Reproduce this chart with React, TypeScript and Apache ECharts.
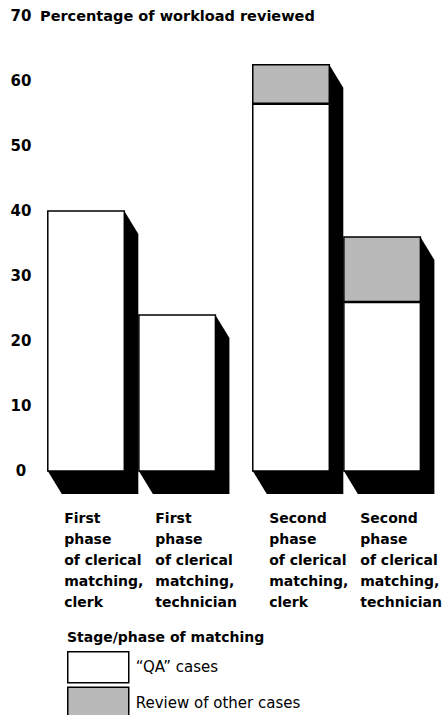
import React, { useEffect, useRef } from "react";
import * as echarts from "echarts";

const categories = [
  "First\nphase\nof clerical\nmatching,\nclerk",
  "First\nphase\nof clerical\nmatching,\ntechnician",
  "Second\nphase\nof clerical\nmatching,\nclerk",
  "Second\nphase\nof clerical\nmatching,\ntechnician",
];
const positions = [0, 1, 2.25, 3.25];
const qaValues = [40, 24, 56.5, 26];
const reviewValues = [0, 0, 6, 10];
const seriesNames = ["\u201cQA\u201d cases", "Review of other cases"];

const FONT = "DejaVu Sans";
const BAR_W = 0.84;
const SHADOW_DX = 14;
const SHADOW_DY = 23;
const GRAY = "#b9b9b9";

export default function App() {
  const ref = useRef<HTMLDivElement>(null);
  useEffect(() => {
    const chart = echarts.init(ref.current!, null, { renderer: "svg" });
    const labelValues = positions.map((p) => p - 0.24);
    chart.setOption({
      animation: false,
      backgroundColor: "#fff",
      title: [
        {
          text: "Percentage of workload reviewed",
          left: 40,
          top: 8,
          padding: 0,
          textStyle: { fontFamily: FONT, fontSize: 14.5, fontWeight: "bold", color: "#000" },
        },
        {
          text: "Stage/phase of matching",
          left: 67,
          top: 630,
          padding: 0,
          textStyle: { fontFamily: FONT, fontSize: 14, fontWeight: "bold", color: "#000" },
        },
      ],
      legend: {
        orient: "vertical",
        left: 67,
        top: 651,
        height: 120,
        width: 300,
        padding: 0,
        itemWidth: 61,
        itemHeight: 31,
        itemGap: 3,
        selectedMode: false,
        textStyle: { fontFamily: FONT, fontSize: 15, color: "#000", padding: [2, 0, 0, 2] },
        data: [
          { name: seriesNames[0], icon: "rect", itemStyle: { color: "#fff", borderColor: "#000", borderWidth: 1.5 } },
          { name: seriesNames[1], icon: "rect", itemStyle: { color: GRAY, borderColor: "#000", borderWidth: 1.5 } },
        ],
      },
      grid: { left: 40.5, right: 9, top: 16, bottom: 244, containLabel: false },
      xAxis: {
        type: "value",
        min: -0.5,
        max: 3.75,
        axisLine: { show: false },
        axisTick: { show: false },
        splitLine: { show: false },
        axisLabel: {
          customValues: labelValues,
          formatter: (v: number) => {
            let best = 0;
            labelValues.forEach((lv, i) => {
              if (Math.abs(lv - v) < Math.abs(labelValues[best] - v)) best = i;
            });
            return categories[best];
          },
          align: "left",
          verticalAlign: "top",
          lineHeight: 21,
          margin: 36,
          fontFamily: FONT,
          fontSize: 14,
          fontWeight: "bold",
          color: "#000",
        },
      },
      yAxis: {
        type: "value",
        min: 0,
        max: 70,
        interval: 10,
        axisLine: { show: false },
        axisTick: { show: false },
        splitLine: { show: false },
        axisLabel: {
          align: "center",
          margin: 19.5,
          fontFamily: FONT,
          fontSize: 15,
          fontWeight: "bold",
          color: "#000",
        },
      },
      series: [
        {
          name: "shadow",
          type: "custom",
          z: 1,
          silent: true,
          encode: { x: 0, y: 1 },
          data: positions.map((p, i) => [p, qaValues[i] + reviewValues[i]]),
          renderItem: (params: any, api: any) => {
            const x = api.value(0);
            const top = api.value(1);
            const b = api.coord([x, 0]);
            const t = api.coord([x, top]);
            const w = api.size([BAR_W, 0])[0];
            const L = b[0] - w / 2;
            const R = b[0] + w / 2;
            const B = b[1];
            const T = t[1];
            return {
              type: "polygon",
              shape: {
                points: [
                  [L, T],
                  [R, T],
                  [R + SHADOW_DX, T + SHADOW_DY],
                  [R + SHADOW_DX, B + SHADOW_DY],
                  [L + SHADOW_DX, B + SHADOW_DY],
                  [L, B],
                ],
              },
              style: { fill: "#000" },
            };
          },
        },
        {
          name: seriesNames[0],
          type: "custom",
          z: 2,
          itemStyle: { color: "#fff", borderColor: "#000", borderWidth: 1.5 },
          encode: { x: 0, y: 1 },
          data: positions.map((p, i) => [p, qaValues[i]]),
          renderItem: (params: any, api: any) => {
            const x = api.value(0);
            const v = api.value(1);
            const b = api.coord([x, 0]);
            const t = api.coord([x, v]);
            const w = api.size([BAR_W, 0])[0];
            return {
              type: "rect",
              shape: { x: b[0] - w / 2, y: t[1], width: w, height: b[1] - t[1] },
              style: { fill: "#fff", stroke: "#000", lineWidth: 1.5 },
            };
          },
        },
        {
          name: seriesNames[1],
          type: "custom",
          z: 3,
          itemStyle: { color: GRAY, borderColor: "#000", borderWidth: 1.5 },
          encode: { x: 0, y: [1, 2] },
          data: positions.map((p, i) => [p, qaValues[i], qaValues[i] + reviewValues[i]]),
          renderItem: (params: any, api: any) => {
            const x = api.value(0);
            const lo = api.value(1);
            const hi = api.value(2);
            if (hi - lo <= 0) return null;
            const b = api.coord([x, lo]);
            const t = api.coord([x, hi]);
            const w = api.size([BAR_W, 0])[0];
            return {
              type: "group",
              children: [
                {
                  type: "rect",
                  shape: { x: b[0] - w / 2, y: t[1], width: w, height: b[1] - t[1] },
                  style: { fill: GRAY, stroke: "#000", lineWidth: 1.5 },
                },
                {
                  type: "line",
                  shape: { x1: b[0] - w / 2, y1: b[1], x2: b[0] + w / 2, y2: b[1] },
                  style: { stroke: "#000", lineWidth: 2.5 },
                },
              ],
            };
          },
        },
      ],
    });
    return () => chart.dispose();
  }, []);
  return (
    <div
      ref={ref}
      style={{ position: "fixed", left: 0, top: 0, width: 445, height: 715, background: "#fff" }}
    />
  );
}
